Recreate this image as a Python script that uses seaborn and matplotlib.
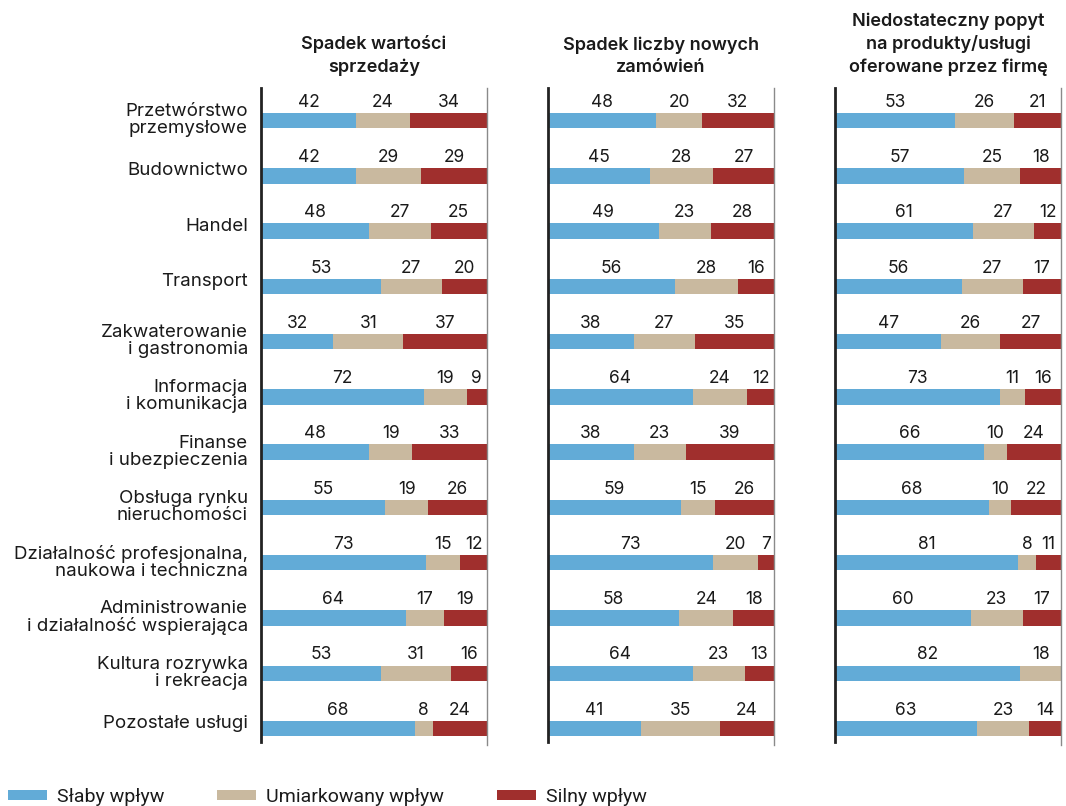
import numpy as np
import matplotlib
matplotlib.use("Agg")
import matplotlib.pyplot as plt
import matplotlib.transforms as mtransforms
from matplotlib.patches import Patch
import pandas as pd
import seaborn as sns

categories = [
    "Przetwórstwo\nprzemysłowe", "Budownictwo", "Handel", "Transport",
    "Zakwaterowanie\ni gastronomia", "Informacja\ni komunikacja",
    "Finanse\ni ubezpieczenia", "Obsługa rynku\nnieruchomości",
    "Działalność profesjonalna,\nnaukowa i techniczna",
    "Administrowanie\ni działalność wspierająca",
    "Kultura rozrywka\ni rekreacja", "Pozostałe usługi",
]
titles = [
    "Spadek wartości\nsprzedaży",
    "Spadek liczby nowych\nzamówień",
    "Niedostateczny popyt\nna produkty/usługi\noferowane przez firmę",
]
legend_labels = ["Słaby wpływ", "Umiarkowany wpływ", "Silny wpływ"]

sales_weak = [42, 42, 48, 53, 32, 72, 48, 55, 73, 64, 53, 68]
sales_mod = [24, 29, 27, 27, 31, 19, 19, 19, 15, 17, 31, 8]
sales_strong = [34, 29, 25, 20, 37, 9, 33, 26, 12, 19, 16, 24]

orders_weak = [48, 45, 49, 56, 38, 64, 38, 59, 73, 58, 64, 41]
orders_mod = [20, 28, 23, 28, 27, 24, 23, 15, 20, 24, 23, 35]
orders_strong = [32, 27, 28, 16, 35, 12, 39, 26, 7, 18, 13, 24]

demand_weak = [53, 57, 61, 56, 47, 73, 66, 68, 81, 60, 82, 63]
demand_mod = [26, 25, 27, 27, 26, 11, 10, 10, 8, 23, 18, 23]
demand_strong = [21, 18, 12, 17, 27, 16, 24, 22, 11, 17, 0, 14]

colors = ["#62abd7", "#c9b99f", "#a02f2d"]

panels = [
    (sales_weak, sales_mod, sales_strong),
    (orders_weak, orders_mod, orders_strong),
    (demand_weak, demand_mod, demand_strong),
]

plt.rcParams["font.family"] = ["Inter", "DejaVu Sans"]
plt.rcParams["text.color"] = "#1a1a1a"

fig = plt.figure(figsize=(10.66, 8.06), dpi=100)
lefts = [261, 548, 835]
W, H = 1066, 806
ax_w = 226
top_px, bot_px = 88, 742

for k, (weak, mod, strong) in enumerate(panels):
    ax = fig.add_axes([lefts[k] / W, 1 - bot_px / H, ax_w / W, (bot_px - top_px) / H])
    df = pd.DataFrame({"cat": categories, "weak": weak, "mod": mod, "strong": strong})
    df["c2"] = df["weak"] + df["mod"]
    df["c3"] = df["c2"] + df["strong"]
    # stacked look: draw cumulative totals from the widest down
    for col, c in zip(["c3", "c2", "weak"], colors[::-1]):
        sns.barplot(data=df, x=col, y="cat", color=c, saturation=1, width=0.28,
                    linewidth=0, orient="h", ax=ax)
    ax.set_xlim(0, 100)
    ax.set_ylim(11.244, -0.588)
    ax.set_xlabel("")
    ax.set_ylabel("")
    ax.set_xticks([])
    ax.set_yticks([])
    for s in ["top", "right", "bottom"]:
        ax.spines[s].set_visible(False)
    ax.spines["left"].set_linewidth(2)
    ax.spines["left"].set_color("#222222")
    ax.axvline(100, ymin=-0.005, ymax=1, color="#8a8a8a", lw=1, clip_on=False)

    # value labels above each segment
    for i in range(len(categories)):
        starts = [0, weak[i], weak[i] + mod[i]]
        vals = [weak[i], mod[i], strong[i]]
        for s0, v in zip(starts, vals):
            if v > 0:
                ax.text(s0 + v / 2, i - 0.33, str(v), ha="center", va="center",
                        fontsize=12.5)

    ax.annotate(titles[k], xy=(0.5, 1), xycoords="axes fraction",
                xytext=(0, 9), textcoords="offset points",
                ha="center", va="bottom", fontsize=13, fontweight="semibold",
                linespacing=1.35)

    if k == 0:
        trans = mtransforms.blended_transform_factory(ax.transAxes, ax.transData)
        for i, lab in enumerate(categories):
            off = -0.01 if "\n" in lab else -0.09
            ax.text(-0.058, i + off, lab, transform=trans, ha="right", va="center",
                    multialignment="right", fontsize=13.5, linespacing=1.0)

handles = [Patch(facecolor=c, edgecolor="none") for c in colors]
fig.legend(handles, legend_labels, loc="center left",
           bbox_to_anchor=(8 / W, 1 - 797 / H),
           ncol=3, frameon=False, borderpad=0, borderaxespad=0,
           handlelength=2.0, handleheight=0.42, handletextpad=0.5,
           columnspacing=2.75,
           prop={"family": ["Roboto", "DejaVu Sans"], "size": 14})

fig.savefig("out.png", dpi=100)
